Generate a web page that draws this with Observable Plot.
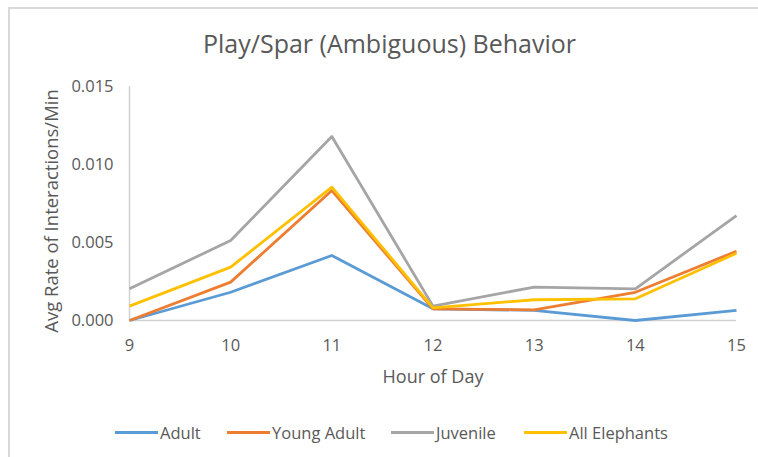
<!DOCTYPE html>
<html>
<head>
<meta charset="utf-8">
<script src="https://cdn.jsdelivr.net/npm/d3@7"></script>
<script src="https://cdn.jsdelivr.net/npm/@observablehq/plot@0.6"></script>
<style>
  html, body { margin: 0; padding: 0; background: #fff; }
  #wrap { position: relative; width: 758px; height: 457px; overflow: hidden; font-family: "Open Sans", sans-serif; }
  #border { position: absolute; left: 8px; top: 7px; width: 800px; height: 500px; border: 2px solid #D9D9D9; box-sizing: border-box; }
  #chart { position: absolute; left: 0; top: 0; }
  #legend { position: absolute; top: 421px; left: 0; width: 758px; height: 22px; font-size: 16.5px; color: #595959; }
  .item { position: absolute; top: 0; display: flex; align-items: center; height: 22px; white-space: nowrap; }
  .sw { width: 43px; height: 0; border-top: 3px solid; margin-right: 2px; }
</style>
</head>
<body>
<div id="wrap">
  <div id="border"></div>
  <div id="chart"></div>
  <div id="legend"></div>
</div>
<script>
const hours = [9, 10, 11, 12, 13, 14, 15];
const seriesNames = ["Adult", "Young Adult", "Juvenile", "All Elephants"];
const seriesColors = ["#5B9BD5", "#ED7D31", "#A5A5A5", "#FFC000"];
const adult       = [0.0000, 0.00181, 0.00417, 0.00075, 0.00065, 0.0000, 0.00065];
const youngAdult  = [0.0000, 0.00246, 0.00833, 0.00074, 0.00068, 0.00181, 0.00444];
const juvenile    = [0.00203, 0.00513, 0.0118, 0.00092, 0.00214, 0.00203, 0.00673];
const allElephants= [0.00092, 0.00342, 0.00855, 0.00081, 0.00133, 0.00139, 0.00431];
const yTicks = [0, 0.005, 0.010, 0.015];
const legendX = [115, 227, 391, 524];

const seriesValues = [adult, youngAdult, juvenile, allElephants];
const rows = [];
seriesNames.forEach((name, i) => {
  hours.forEach((h, j) => rows.push({series: name, hour: h, value: seriesValues[i][j]}));
});

const textColor = "#595959";
const plot = Plot.plot({
  width: 758,
  height: 457,
  marginLeft: 129,
  marginRight: 22,
  marginTop: 86,
  marginBottom: 137,
  style: { fontFamily: "Open Sans, sans-serif", background: "transparent", color: textColor },
  x: { domain: [9, 15], label: null },
  y: { domain: [0, 0.015], label: null },
  color: { domain: seriesNames, range: seriesColors },
  marks: [
    Plot.ruleX([9], { y1: 0, y2: 0.015, stroke: "#D0D0D0", strokeWidth: 1.5 }),
    Plot.ruleY([0], { stroke: "#D0D0D0", strokeWidth: 1.5 }),
    Plot.axisY(yTicks, { tickSize: 0, tickPadding: 16, tickFormat: d3.format(".3f"), fontSize: 16.5, fill: textColor, label: null }),
    Plot.axisX(hours, { tickSize: 0, tickPadding: 19, fontSize: 16.5, fill: textColor, label: null }),
    Plot.line(rows, { x: "hour", y: "value", z: "series", stroke: "series", strokeWidth: 2.8, strokeLinejoin: "round", strokeLinecap: "butt" }),
    Plot.text(["Play/Spar (Ambiguous) Behavior"], { frameAnchor: "top", textAnchor: "middle", lineAnchor: "middle", dx: -43.5, dy: -42, fontSize: 25, fill: textColor, text: d => d }),
    Plot.text(["Hour of Day"], { frameAnchor: "bottom", textAnchor: "middle", lineAnchor: "middle", dx: 0, dy: 57, fontSize: 18, fill: textColor, text: d => d }),
    Plot.text(["Avg Rate of Interactions/Min"], { frameAnchor: "left", textAnchor: "middle", lineAnchor: "middle", dx: -77, dy: 7.5, rotate: -90, fontSize: 18.5, fill: textColor, text: d => d })
  ]
});
document.getElementById("chart").appendChild(plot);

const legend = document.getElementById("legend");
seriesNames.forEach((name, i) => {
  const item = document.createElement("div");
  item.className = "item";
  item.style.left = legendX[i] + "px";
  const sw = document.createElement("span");
  sw.className = "sw";
  sw.style.borderTopColor = seriesColors[i];
  const label = document.createElement("span");
  label.textContent = name;
  item.appendChild(sw);
  item.appendChild(label);
  legend.appendChild(item);
});
</script>
</body>
</html>
